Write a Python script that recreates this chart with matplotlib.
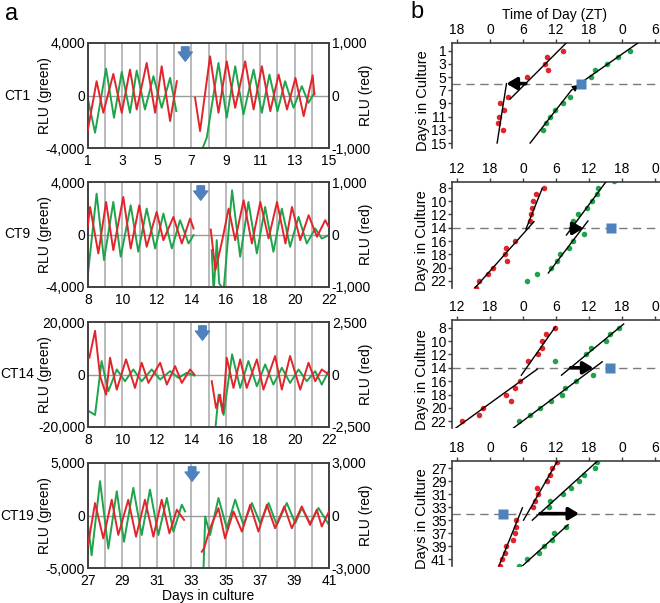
import matplotlib
matplotlib.use('Agg')
import matplotlib.pyplot as plt

plt.rcParams['font.family'] = ['Liberation Sans', 'DejaVu Sans']

W, H = 660, 603
fig = plt.figure(figsize=(6.6, 6.03), dpi=100)


def rect(l, t, r, b):
    return [l / W, 1 - b / H, (r - l) / W, (b - t) / H]


GREEN = '#1ea44b'
RED = '#e3242b'
BLUE = '#4f81bd'
GRID = '#b4b4b4'
SPINE = '#404040'

# ---------------- Panel a data (days in culture, RLU) ----------------
a_names = ['CT1', 'CT9', 'CT14', 'CT19']
a_xstart = [1, 8, 8, 27]
a_green_lim = [4000, 4000, 20000, 5000]
a_red_lim = [1000, 1000, 2500, 3000]
a_arrow_day = [6.65, 14.55, 14.65, 33.05]

# CT1
ct1_green_pre_day = [0.98, 1.41, 2.05, 2.51, 2.96, 3.44, 3.83, 4.31, 4.80, 5.28, 5.77, 6.13]
ct1_green_pre_val = [-177, -2834, 2049, -1695, 1796, -1316, 1898, -1063, 1467, -936, 1341, -1189]
ct1_green_post_day = [7.45, 7.90, 8.58, 9.06, 9.55, 10.03, 10.62, 11.10, 11.54, 12.01, 12.45, 12.94, 13.42, 13.81, 14.15]
ct1_green_post_val = [-4700, -3213, 2479, -1695, 2226, -1442, 1973, -1316, 1594, -1189, 1088, -936, 708, -557, 202]
ct1_red_pre_day = [0.98, 1.50, 1.89, 2.47, 2.96, 3.44, 3.83, 4.41, 4.90, 5.28, 5.77, 6.16]
ct1_red_pre_val = [-677, 272, -329, 411, -329, 494, -266, 620, -329, 557, -487, 272]
ct1_red_post_day = [7.22, 7.51, 8.09, 8.58, 9.06, 9.55, 10.13, 10.62, 11.10, 11.59, 12.07, 12.56, 13.05, 13.53, 14.05, 14.15]
ct1_red_post_val = [-44, -677, 747, -329, 652, -234, 652, -266, 557, -298, 399, -266, 335, -392, 386, 19]

# CT9
ct9_green_pre_day = [7.98, 8.50, 8.93, 9.47, 9.90, 10.48, 10.92, 11.41, 11.90, 12.38, 12.87, 13.35, 13.84, 14.13]
ct9_green_pre_val = [-3213, 3112, -1948, 2479, -1695, 2226, -1316, 1973, -1063, 1594, -1063, 1088, -683, -51]
ct9_green_post_day = [15.19, 15.30, 15.48, 15.62, 15.88, 16.37, 16.84, 17.32, 17.81, 18.29, 18.77, 19.26, 19.74, 20.23, 20.71, 21.20, 21.58, 21.98]
ct9_green_post_val = [-1190, -4478, -430, -3719, -4225, 3365, -1695, 2479, -1442, 2100, -1316, 1973, -936, 1341, -683, 455, -304, -51]
ct9_red_pre_day = [7.98, 8.12, 8.60, 9.05, 9.47, 10.05, 10.48, 10.98, 11.41, 11.99, 12.38, 12.96, 13.45, 13.93, 14.13]
ct9_red_pre_val = [146, 525, -361, 620, -298, 715, -266, 557, -234, 430, -108, 335, -171, 304, 114]
ct9_red_post_day = [15.13, 15.40, 15.78, 16.17, 16.55, 17.04, 17.52, 18.01, 18.49, 18.98, 19.47, 19.85, 20.33, 20.82, 21.30, 21.78, 21.98]
ct9_red_post_val = [95, -677, -139, 494, -108, 652, -171, 620, -76, 620, -171, 525, -108, 367, -44, 272, 146]

# CT14
ct14_green_pre_day = [8.08, 8.41, 8.79, 9.18, 9.67, 10.15, 10.63, 11.12, 11.70, 12.19, 12.77, 13.25, 13.74, 14.18]
ct14_green_pre_val = [-14100, -15400, 5130, -6410, 1920, -2560, 1920, -2560, 1920, -1920, 1280, -1280, 640, -380]
ct14_green_post_day = [15.40, 15.59, 15.88, 16.37, 16.84, 17.32, 17.81, 18.29, 18.77, 19.26, 19.74, 20.23, 20.71, 21.20, 21.58, 21.98]
ct14_green_post_val = [-20500, -7690, -15400, 7690, -5130, 5130, -4490, 3850, -3850, 2560, -3210, 1920, -2560, 1280, -3850, 1280]
ct14_red_pre_day = [8.08, 8.41, 8.70, 9.05, 9.28, 9.67, 10.21, 10.73, 11.12, 11.51, 12.19, 12.58, 13.06, 13.45, 13.93, 14.18]
ct14_red_pre_val = [800, 2080, -80, -960, 800, -720, 720, -640, 560, -400, 560, -480, 400, -400, 240, 0]
ct14_red_post_day = [15.19, 15.44, 15.67, 15.83, 16.06, 16.45, 16.84, 17.22, 17.81, 18.19, 18.87, 19.26, 19.74, 20.33, 20.81, 21.20, 21.58, 21.98]
ct14_red_post_val = [-320, -1600, -960, -1840, 800, -640, 720, -640, 720, -720, 880, -720, 880, -720, 560, -320, 240, 0]

# CT19
ct19_green_pre_day = [27.0, 27.21, 27.70, 28.18, 28.67, 29.09, 29.63, 30.12, 30.60, 31.09, 31.58, 31.96, 32.45, 32.64]
ct19_green_pre_val = [-900, -3790, 3270, -3150, 2310, -2500, 2630, -1860, 2470, -1860, 1670, -1540, 1030, 390]
ct19_green_post_day = [33.71, 33.81, 34.09, 34.58, 35.06, 35.55, 36.03, 36.52, 37.00, 37.49, 37.97, 38.55, 39.04, 39.42, 39.91, 40.39, 41.0]
ct19_green_post_val = [-5070, -100, -1860, 1670, -1220, 1510, -900, 1190, -740, 1190, -900, 1190, -740, 710, -740, 710, -900]
ct19_red_pre_day = [27.0, 27.41, 27.89, 28.38, 28.76, 29.34, 29.79, 30.31, 30.80, 31.28, 31.73, 32.16, 32.50, 32.58]
ct19_red_pre_val = [-1690, 710, -1310, 900, -1110, 900, -1210, 900, -1210, 900, -1020, 330, -150, -250]
ct19_red_post_day = [33.61, 33.74, 34.09, 34.58, 34.96, 35.45, 35.94, 36.42, 36.90, 37.39, 37.87, 38.40, 38.84, 39.42, 39.90, 40.29, 40.58, 41.0]
ct19_red_post_val = [-2070, -1880, -730, 420, -1310, 230, -920, 610, -920, 610, -730, 520, -730, 520, -540, 330, -630, 230]

a_traces = [
    ((ct1_green_pre_day, ct1_green_pre_val), (ct1_green_post_day, ct1_green_post_val),
     (ct1_red_pre_day, ct1_red_pre_val), (ct1_red_post_day, ct1_red_post_val)),
    ((ct9_green_pre_day, ct9_green_pre_val), (ct9_green_post_day, ct9_green_post_val),
     (ct9_red_pre_day, ct9_red_pre_val), (ct9_red_post_day, ct9_red_post_val)),
    ((ct14_green_pre_day, ct14_green_pre_val), (ct14_green_post_day, ct14_green_post_val),
     (ct14_red_pre_day, ct14_red_pre_val), (ct14_red_post_day, ct14_red_post_val)),
    ((ct19_green_pre_day, ct19_green_pre_val), (ct19_green_post_day, ct19_green_post_val),
     (ct19_red_pre_day, ct19_red_pre_val), (ct19_red_post_day, ct19_red_post_val)),
]

a_tops = [43, 182, 322, 463]
a_h = 105
FS = 10

for i in range(4):
    top = a_tops[i]
    ax = fig.add_axes(rect(88, top, 329, top + a_h))
    x0 = a_xstart[i]
    gl = a_green_lim[i]
    rl = a_red_lim[i]
    ax.set_xlim(x0, x0 + 14)
    ax.set_ylim(-gl, gl)
    ax.set_xticks(list(range(x0, x0 + 15, 2)))
    ax.set_yticks([-gl, 0, gl])
    ax.set_yticklabels([f"{-gl:,}", '0', f"{gl:,}"])
    ax.tick_params(axis='y', length=0, labelsize=FS, pad=2)
    ax.tick_params(axis='x', length=0, labelsize=FS, pad=4.5)
    for d in range(x0 + 1, x0 + 14):
        ax.axvline(d, color=GRID, lw=1.3, zorder=0)
    ax.axhline(0, color='#9a9a9a', lw=1.0, zorder=0.5)
    for s in ax.spines.values():
        s.set_color(SPINE)
        s.set_linewidth(1.2)
    gpre, gpost, rpre, rpost = a_traces[i]
    ax.plot(gpre[0], gpre[1], color=GREEN, lw=1.4, zorder=2, solid_joinstyle='round')
    ax.plot(gpost[0], gpost[1], color=GREEN, lw=1.4, zorder=2, solid_joinstyle='round')
    ax2 = ax.twinx()
    ax2.set_ylim(-rl, rl)
    ax2.set_yticks([-rl, 0, rl])
    ax2.set_yticklabels([f"{-rl:,}", '0', f"{rl:,}"])
    ax2.tick_params(length=0, labelsize=FS, pad=2)
    for s in ax2.spines.values():
        s.set_color(SPINE)
        s.set_linewidth(1.2)
    ax2.plot(rpre[0], rpre[1], color=RED, lw=1.4, zorder=3, solid_joinstyle='round')
    ax2.plot(rpost[0], rpost[1], color=RED, lw=1.4, zorder=3, solid_joinstyle='round')
    ax2.annotate('', xy=(a_arrow_day[i], 0.80), xycoords=('data', 'axes fraction'),
                 xytext=(a_arrow_day[i], 0.99), textcoords=('data', 'axes fraction'),
                 arrowprops=dict(arrowstyle='simple,head_width=0.85,head_length=0.55,tail_width=0.45',
                                 fc=BLUE, ec=BLUE, mutation_scale=12), zorder=5)
    ymid = 1 - (top + a_h / 2) / H
    fig.text(17 / W, ymid, a_names[i], ha='center', va='center', fontsize=FS)
    fig.text(45 / W, ymid, 'RLU (green)', ha='center', va='center', rotation=90, fontsize=FS)
    fig.text(366 / W, ymid, 'RLU (red)', ha='center', va='center', rotation=90, fontsize=FS)

fig.text(208 / W, 1 - 596 / H, 'Days in culture', ha='center', va='center', fontsize=FS)
fig.text(5 / W, 1 - 14 / H, 'a', ha='left', va='center', fontsize=17)
fig.text(410 / W, 1 - 12 / H, 'b', ha='left', va='center', fontsize=17)
fig.text(555 / W, 1 - 15 / H, 'Time of Day (ZT)', ha='center', va='center', fontsize=FS)

# ---------------- Panel b data (ZT hours, day in culture) ----------------
b1_red_day = [1, 2, 3, 4, 5, 8, 9, 10, 11, 12, 13]
b1_red_zt = [13.2, 10.3, 10.0, 10.5, 6.7, 3.2, 1.8, 2.6, 1.6, 1.5, 2.3]
b1_green_day = [1, 2, 3, 4, 5, 8, 9, 10, 11, 12, 13]
b1_green_zt = [25.4, 23.3, 21.3, 19.0, 18.4, 14.6, 13.2, 11.8, 10.9, 10.1, 9.7]
b1_fit_red = [[(13.8, -0.1), (3.7, 8.3)], [(3.0, 6.0), (1.3, 15.0)]]
b1_fit_green = [[(26.8, -0.1), (16.3, 6.0)], [(7.3, 15.0), (14.8, 7.0)]]
b1_shift = [(6.5, 6.0, 3.0)]
b1_thin = [(14.8, 7.0, 16.2, 6.2)]
b1_square = (16.6, 6.0)
b1_dash = 6.0

b2_red_day = [8, 9, 10, 11, 12, 13, 16, 17, 18, 19, 20, 21, 22, 23]
b2_red_zt = [3.8, 2.4, 1.9, 1.6, 1.4, 1.2, -1.5, -3.1, -3.3, -2.9, -5.5, -6.3, -8.0, -8.6]
b2_green_day = [7, 8, 9, 10, 11, 12, 13, 15, 16, 17, 18, 19, 20, 21, 22]
b2_green_zt = [16.6, 13.7, 13.4, 12.6, 11.6, 10.0, 9.0, 11.1, 9.0, 8.3, 6.8, 6.2, 5.1, 2.6, 0.8]
b2_fit_red = [[(3.5, 8.1), (0.55, 14.2)], [(2.0, 13.1), (-8.8, 23.1)]]
b2_fit_green = [[(15.1, 7.1), (7.9, 15.1)], [(11.8, 13.0), (4.6, 20.8)]]
b2_shift = [(8.7, 14.1, 11.0)]
b2_thin = []
b2_square = (16.0, 14.1)
b2_dash = 14.1

b3_red_day = [8, 9, 10, 11, 12, 13, 16, 17, 18, 19, 20, 21, 22]
b3_red_zt = [5.75, 4.25, 3.5, 3.4, 2.8, 0.9, -0.6, -1.5, -3.1, -2.2, -7.2, -8.0, -11.0]
b3_green_day = [8, 9, 10, 11, 12, 13, 15, 16, 17, 18, 19, 20, 21, 22]
b3_green_zt = [17.5, 15.9, 15.1, 12.3, 11.4, 5.75, 12.8, 9.6, 7.6, 7.0, 5.1, 3.1, 1.3, -0.8]
b3_fit_red = [[(5.9, 7.85), (-0.3, 15.1)], [(2.6, 14.2), (-12.2, 23.0)]]
b3_fit_green = [[(18.3, 7.45), (7.0, 15.1)], [(14.4, 13.1), (-1.9, 23.1)]]
b3_shift = [(8.65, 14.0, 12.8)]
b3_thin = []
b3_square = (15.9, 14.0)
b3_dash = 14.0

b4_red_day = [26, 27, 28, 29, 30, 31, 32, 33, 35, 36, 37, 38, 39, 40, 41, 42]
b4_red_zt = [12.1, 11.2, 11.0, 10.3, 8.6, 8.8, 8.2, 7.8, 4.7, 4.7, 4.5, 4.1, 2.9, 2.8, 2.2, 1.8]
b4_green_day = [26, 27, 28, 29, 30, 31, 32, 33, 36, 37, 38, 39, 40, 41, 42]
b4_green_zt = [19.5, 19.1, 17.1, 16.2, 14.7, 13.3, 11.0, 10.7, 13.8, 11.6, 11.3, 9.9, 8.9, 6.8, 5.3]
b4_fit_red = [[(12.4, 25.7), (6.1, 35.0)], [(5.9, 33.1), (1.6, 42.1)]]
b4_fit_green = [[(19.8, 25.7), (7.7, 35.0)], [(14.2, 35.7), (5.8, 42.1)]]
b4_shift = [(9.1, 34.0, 16.2)]
b4_thin = []
b4_square = (2.4, 34.0)
b4_dash = 34.0

b_panels = [
    (b1_red_day, b1_red_zt, b1_green_day, b1_green_zt, b1_fit_red, b1_fit_green, b1_shift, b1_thin, b1_square, b1_dash),
    (b2_red_day, b2_red_zt, b2_green_day, b2_green_zt, b2_fit_red, b2_fit_green, b2_shift, b2_thin, b2_square, b2_dash),
    (b3_red_day, b3_red_zt, b3_green_day, b3_green_zt, b3_fit_red, b3_fit_green, b3_shift, b3_thin, b3_square, b3_dash),
    (b4_red_day, b4_red_zt, b4_green_day, b4_green_zt, b4_fit_red, b4_fit_green, b4_shift, b4_thin, b4_square, b4_dash),
]

b_xticks_a = [-6, 0, 6, 12, 18, 24, 30]
b_xlabels_a = ['18', '0', '6', '12', '18', '0', '6']
b_xticks_b = [-12, -6, 0, 6, 12, 18, 24]
b_xlabels_b = ['12', '18', '0', '6', '12', '18', '0']
b_xlims = [(-6.9, 30.9), (-12.9, 24.9), (-12.9, 24.9), (-6.9, 30.9)]
b_ylims = [(15.75, -0.15), (23.05, 7.15), (23.0, 6.85), (42.05, 25.9)]
b_yticks = [list(range(1, 16, 2)), list(range(8, 23, 2)), list(range(8, 23, 2)), list(range(27, 42, 2))]
b_boxes = [(43, 148), (182, 288), (320, 428), (461, 566)]

for i in range(4):
    t, b = b_boxes[i]
    ax = fig.add_axes(rect(452, t, 660, b))
    rd, rz, gd, gz, fr, fg, sh, thin, sq, dash = b_panels[i]
    ax.set_xlim(*b_xlims[i])
    ax.set_ylim(*b_ylims[i])
    if i in (0, 3):
        ax.set_xticks(b_xticks_a)
        ax.set_xticklabels(b_xlabels_a)
    else:
        ax.set_xticks(b_xticks_b)
        ax.set_xticklabels(b_xlabels_b)
    ax.set_yticks(b_yticks[i])
    ax.xaxis.tick_top()
    ax.tick_params(axis='both', labelsize=FS, length=3, width=1, color=SPINE, pad=1)
    ax.spines['right'].set_visible(False)
    ax.spines['bottom'].set_visible(False)
    for s in ('left', 'top'):
        ax.spines[s].set_color(SPINE)
        ax.spines[s].set_linewidth(1.2)
    ax.set_ylabel('Days in Culture', fontsize=FS + 0.5, labelpad=1)
    ax.axhline(dash, color='#7a7a7a', lw=1.0, ls=(0, (6, 4)), zorder=1)
    for seg in fr + fg:
        ax.plot([seg[0][0], seg[1][0]], [seg[0][1], seg[1][1]], color='black', lw=1.0, zorder=3)
    ax.plot(rz, rd, 'o', color=RED, ms=4.0, mec='none', zorder=2)
    ax.plot(gz, gd, 'o', color=GREEN, ms=4.0, mec='none', zorder=2)
    for (x1, yy, x2) in sh:
        ax.annotate('', xy=(x2, yy), xytext=(x1, yy),
                    arrowprops=dict(arrowstyle='-|>,head_length=0.5,head_width=0.3', lw=2.6,
                                    color='black', mutation_scale=12, shrinkA=0, shrinkB=0), zorder=4)
    for (x1, y1, x2, y2) in thin:
        ax.annotate('', xy=(x2, y2), xytext=(x1, y1),
                    arrowprops=dict(arrowstyle='-|>,head_length=0.4,head_width=0.2', lw=0.8,
                                    color='black', mutation_scale=10, shrinkA=0, shrinkB=0), zorder=4)
    ax.plot([sq[0]], [sq[1]], 's', color=BLUE, ms=7.5, mec='none', zorder=5)
    ax.yaxis.label.set_position((0, 0.45))

fig.savefig('out.png', dpi=100)
